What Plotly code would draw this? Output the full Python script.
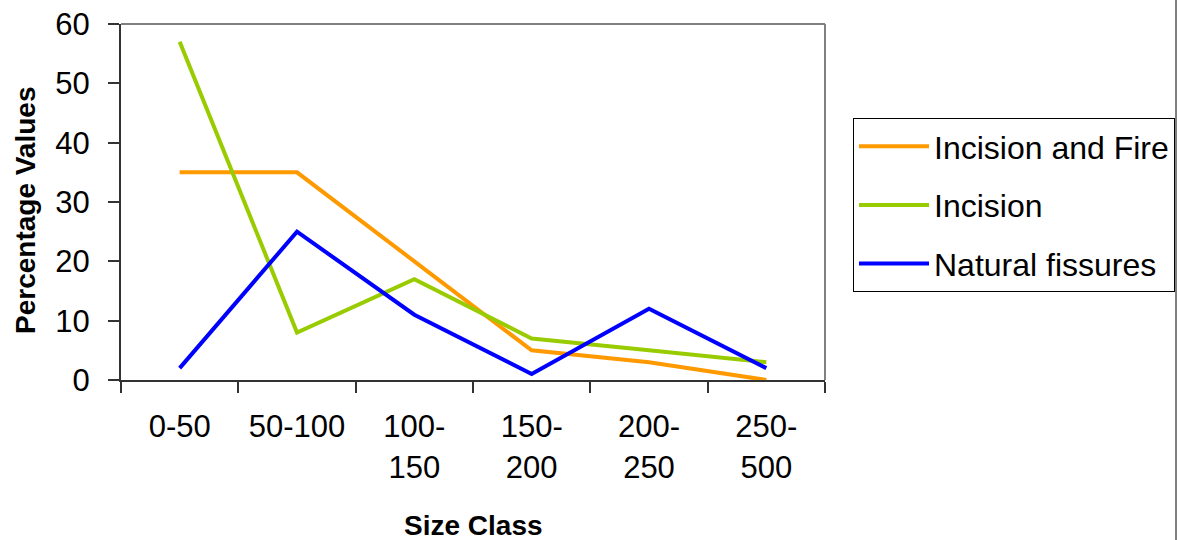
import plotly.graph_objects as go

categories = ["0-50", "50-100", "100-<br>150", "150-<br>200", "200-<br>250", "250-<br>500"]
incision_fire = [35, 35, 20, 5, 3, 0]
incision = [57, 8, 17, 7, 5, 3]
natural_fissures = [2, 25, 11, 1, 12, 2]

series = [
    ("Incision and Fire", incision_fire, "#FF9900"),
    ("Incision", incision, "#99CC00"),
    ("Natural fissures", natural_fissures, "#0000FF"),
]

FONT = "Liberation Sans, Arial, sans-serif"

fig = go.Figure()
for i, (name, vals, col) in enumerate(series):
    fig.add_trace(go.Scatter(
        x=categories, y=vals, name=name, mode="lines",
        line=dict(color=col, width=4), legendgroup=f"g{i}",
    ))

L, R, T, B = 121, 353, 24, 160
W, H = 1178, 540
pw = W - L - R
ph = H - T - B

fig.update_layout(
    width=W, height=H,
    margin=dict(l=L, r=R, t=T, b=B, autoexpand=False),
    paper_bgcolor="white", plot_bgcolor="white",
    font=dict(family=FONT, color="black"),
    showlegend=True,
    legend=dict(
        x=(853 - L) / pw, y=(H - B - 118) / ph, xanchor="left", yanchor="top",
        bordercolor="black", borderwidth=1, bgcolor="white",
        font=dict(size=32, family=FONT, color="black"),
        tracegroupgap=14, itemwidth=70,
    ),
    xaxis=dict(
        type="category", range=[-0.5, 5.5], tickson="boundaries",
        ticks="outside", ticklen=11,
        tickcolor="#333333", tickwidth=2,
        showline=True, linecolor="#333333", linewidth=2, showgrid=False,
        tickfont=dict(size=31, family=FONT, color="black"),
        ticklabelstandoff=18, zeroline=False,
    ),
    yaxis=dict(
        range=[0, 60], dtick=10, ticks="outside", ticklen=11,
        tickcolor="#333333", tickwidth=2,
        showline=True, linecolor="#333333", linewidth=2, showgrid=False,
        tickfont=dict(size=31, family=FONT, color="black"),
        ticklabelstandoff=12, zeroline=False,
    ),
    shapes=[
        dict(type="line", xref="paper", yref="paper", x0=0, x1=1, y0=1, y1=1,
             line=dict(color="#808080", width=2)),
        dict(type="line", xref="paper", yref="paper", x0=1, x1=1, y0=0, y1=1,
             line=dict(color="#808080", width=2)),
        dict(type="line", xref="paper", yref="paper",
             x0=(1176 - L) / pw, x1=(1176 - L) / pw, y0=-B / ph, y1=1 + T / ph,
             line=dict(color="#808080", width=2)),
    ],
    annotations=[
        dict(text="<b>Size Class</b>", xref="paper", yref="paper",
             x=0.5, y=-(525 - (H - B)) / ph, xanchor="center", yanchor="middle",
             showarrow=False, font=dict(size=28, family=FONT, color="black")),
        dict(text="<b>Percentage Values</b>", xref="paper", yref="paper",
             x=(25 - L) / pw, y=(H - B - 211) / ph, xanchor="center", yanchor="middle",
             textangle=-90, showarrow=False,
             font=dict(size=28, family=FONT, color="black")),
    ],
)

fig.write_html("out.html")
